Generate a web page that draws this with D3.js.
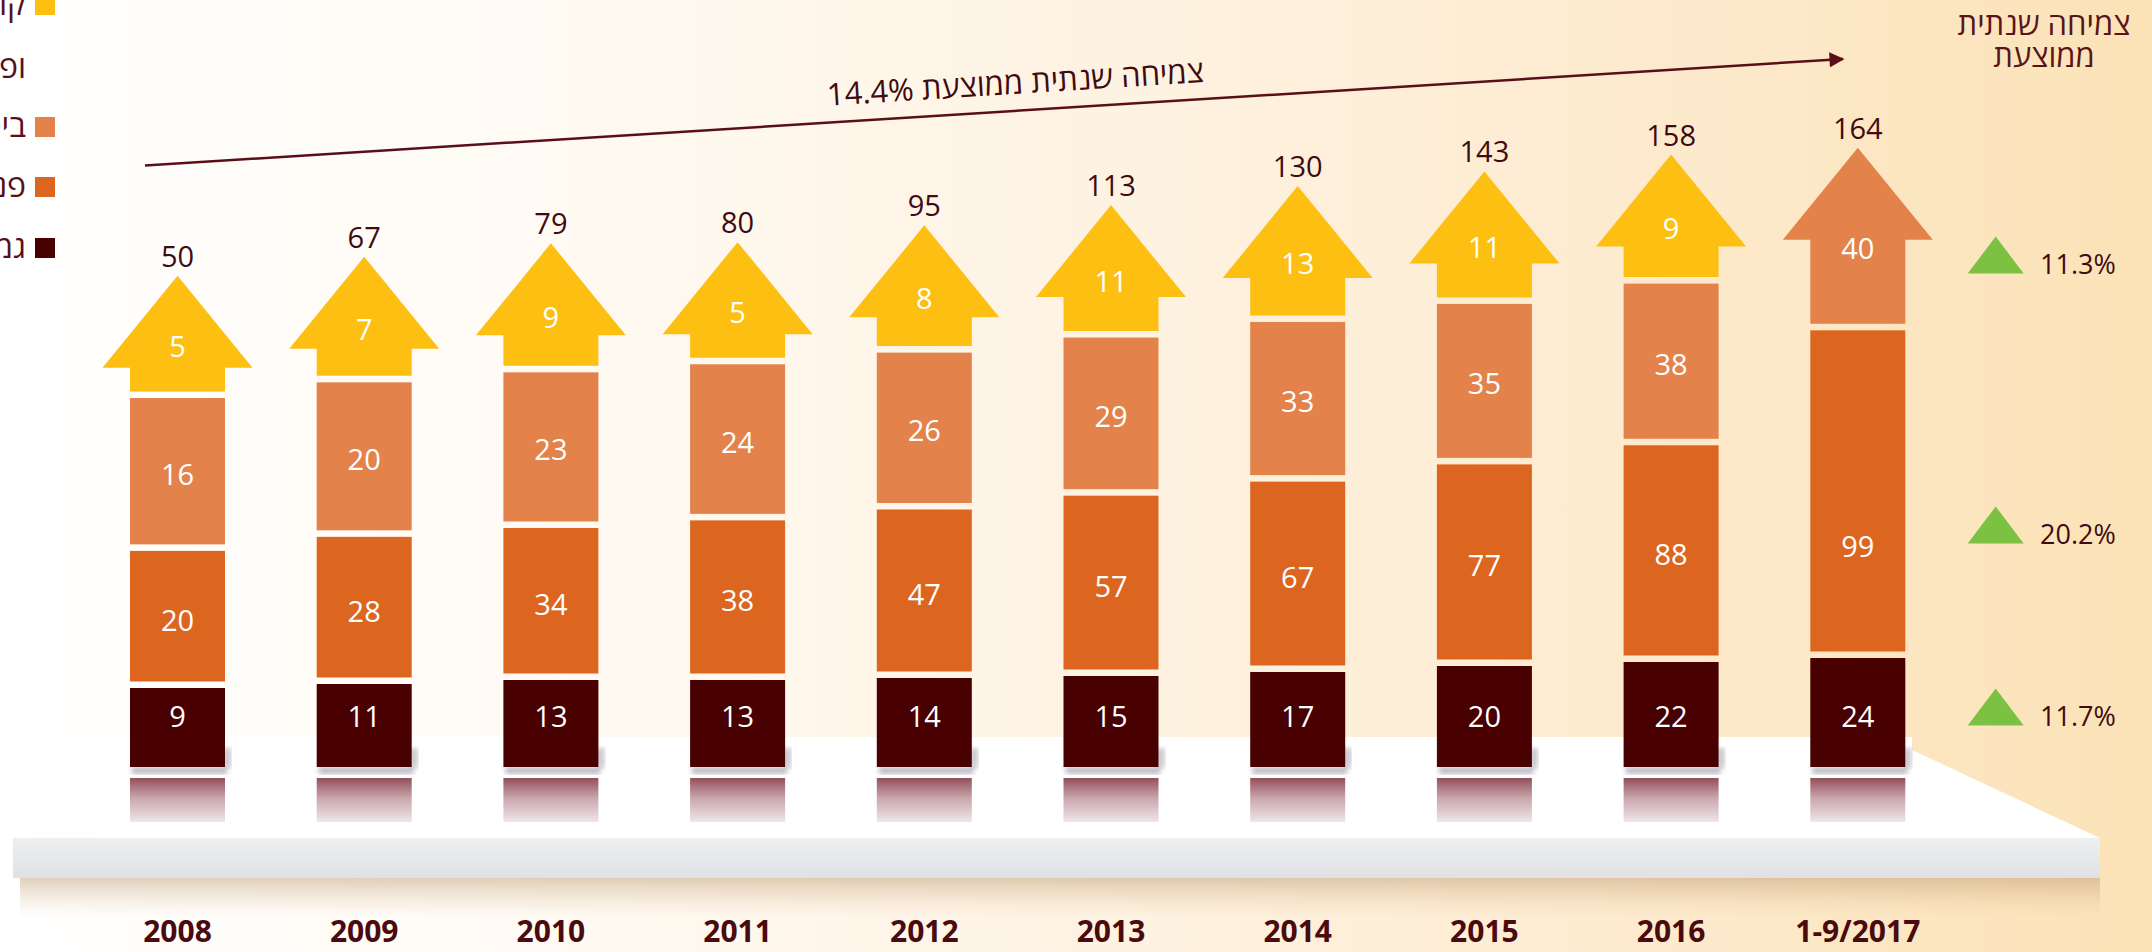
<!DOCTYPE html>
<html><head><meta charset="utf-8">
<script src="https://cdn.jsdelivr.net/npm/d3@7/dist/d3.min.js"></script>
<style>
html,body{margin:0;padding:0;overflow:hidden;background:#fff}
svg{display:block}
text{font-family:"Open Sans","Liberation Sans","DejaVu Sans",sans-serif}
</style></head>
<body>
<svg id="chart" width="2152" height="952"></svg>
<script>
// ---------- data ----------
const years = ["2008","2009","2010","2011","2012","2013","2014","2015","2016","1-9/2017"];
const gemel     = [9, 11, 13, 13, 14, 15, 17, 20, 22, 24];     // dark
const pension   = [20, 28, 34, 38, 47, 57, 67, 77, 88, 99];    // orange
const insurance = [16, 20, 23, 24, 26, 29, 33, 35, 38, 40];    // light orange
const keren     = [5, 7, 9, 5, 8, 11, 13, 11, 9, 0];           // yellow
const totals    = [50, 67, 79, 80, 95, 113, 130, 143, 158, 164];
const seriesKeys   = ["keren", "insurance", "pension", "gemel"];
const legendLines  = [["קרנות השתלמות", "ופוליסות חיסכון"], ["ביטוח מנהלים"], ["פנסיה"], ["גמל"]];
const growthKeys   = ["insurance", "pension", "gemel"];
const growthLabels = ["11.3%", "20.2%", "11.7%"];
const trendLabel   = "צמיחה שנתית ממוצעת 14.4%";
const titleLines   = ["צמיחה שנתית", "ממוצעת"];

// ---------- styles ----------
const colors = {keren:"#FDBF12", insurance:"#E3834B", pension:"#DC661F", gemel:"#480000"};
const textDark = "#3F0B10";
const W = 2152, H = 952;
const BASE = 767, GAP = 6.5, BAR_W = 95, HEAD_W = 150, HEAD_H = 92;

const svg = d3.select("#chart");
const defs = svg.append("defs");

// background gradient
const bg = defs.append("linearGradient").attr("id","bg").attr("x1",0).attr("x2",1).attr("y1",0).attr("y2",0);
[[0,"#FFFFFF"],[0.22,"#FFFBF5"],[0.5,"#FEF3E3"],[0.78,"#FDEACD"],[1,"#FBE2B6"]].forEach(s=>bg.append("stop").attr("offset",s[0]).attr("stop-color",s[1]));
svg.append("rect").attr("width",W).attr("height",H).attr("fill","url(#bg)");

const front = defs.append("linearGradient").attr("id","front").attr("x1",0).attr("x2",0).attr("y1",0).attr("y2",1);
[[0,"#EEEFF1"],[1,"#E0E1E4"]].forEach(s=>front.append("stop").attr("offset",s[0]).attr("stop-color",s[1]));
const under = defs.append("linearGradient").attr("id","under").attr("x1",0).attr("x2",0).attr("y1",0).attr("y2",1);
[[0,"rgba(185,150,110,0.45)"],[1,"rgba(230,200,160,0)"]].forEach(s=>under.append("stop").attr("offset",s[0]).attr("stop-color",s[1]));
const topSurf = defs.append("linearGradient").attr("id","topSurf").attr("x1",0).attr("x2",1).attr("y1",0).attr("y2",0);
[[0,"rgba(255,255,255,0.5)"],[0.08,"#FFFFFF"],[1,"#FFFFFF"]].forEach(s=>topSurf.append("stop").attr("offset",s[0]).attr("stop-color",s[1]));
const refl = defs.append("linearGradient").attr("id","refl").attr("x1",0).attr("x2",0).attr("y1",0).attr("y2",1);
[[0,"#93505A"],[0.45,"#C9A5AC"],[1,"#EFE6EA"]].forEach(s=>refl.append("stop").attr("offset",s[0]).attr("stop-color",s[1]));
defs.append("filter").attr("id","blur").append("feGaussianBlur").attr("stdDeviation",2.5);

// ---------- scales ----------
const x = d3.scalePoint().domain(years).range([177.5, 1857.8]);
const yTotal = d3.scaleLinear().domain([0, 200]).range([BASE - 435, BASE - 435 - 224.6]);
const hDark  = d3.scaleLinear().domain([0, 30]).range([61, 121]);
const hArrow = d3.scaleLinear().domain([0, 40]).range([107, 176]);
const hLight = d3.scaleLinear().domain([0, 40]).range([140, 156]);
const growthY = d3.scaleOrdinal().domain(growthKeys).range([255, 525, 707]);

// ---------- platform ----------
const plat = svg.append("g");
plat.append("rect").attr("x",20).attr("y",878).attr("width",2080).attr("height",40).attr("fill","url(#under)");
plat.append("polygon").attr("points","70,737 1912,737 1912,750 2100,838 13,838").attr("fill","url(#topSurf)");
plat.append("rect").attr("x",13).attr("y",838).attr("width",2087).attr("height",40).attr("fill","url(#front)");

// ---------- layout per bar ----------
const rows = years.map((yr,i)=>{
  const cx = x(yr);
  const tip = yTotal(totals[i]);
  const segs = [];
  const dH = hDark(gemel[i]);
  segs.push({key:"gemel", v:gemel[i], y0:BASE-dH, y1:BASE});
  const darkTop = BASE - dH;
  const topKey = keren[i] > 0 ? "keren" : "insurance";
  const topVal = keren[i] > 0 ? keren[i] : insurance[i];
  const aBottom = tip + hArrow(topVal);
  let orangeTop;
  if (topKey === "keren") {
    const lTop = aBottom + GAP, lBottom = lTop + hLight(insurance[i]);
    segs.push({key:"insurance", v:insurance[i], y0:lTop, y1:lBottom});
    orangeTop = lBottom + GAP;
  } else {
    orangeTop = aBottom + GAP;
  }
  segs.push({key:"pension", v:pension[i], y0:orangeTop, y1:darkTop - GAP});
  return {yr, i, cx, tip, segs, arrow:{key:topKey, v:topVal, tip, bottom:aBottom}};
});

// ---------- reflections & shadows ----------
const refG = svg.append("g");
rows.forEach(r=>{
  refG.append("rect").attr("x",r.cx+BAR_W/2-2).attr("y",748).attr("width",8).attr("height",20)
    .attr("fill","#9A9AA6").attr("opacity",0.55).attr("filter","url(#blur)");
  refG.append("rect").attr("x",r.cx-BAR_W/2+2).attr("y",767).attr("width",BAR_W).attr("height",7)
    .attr("fill","#8C8C99").attr("opacity",0.6).attr("filter","url(#blur)");
  refG.append("rect").attr("x",r.cx-BAR_W/2).attr("y",778).attr("width",BAR_W).attr("height",44).attr("fill","url(#refl)");
});

// ---------- bars ----------
const barG = svg.append("g");
rows.forEach(r=>{
  r.segs.forEach(s=>{
    barG.append("rect").attr("x",r.cx-BAR_W/2).attr("y",s.y0).attr("width",BAR_W).attr("height",s.y1-s.y0).attr("fill",colors[s.key]);
  });
  const a = r.arrow, hw = BAR_W/2, hh = HEAD_W/2, hb = a.tip + HEAD_H;
  const pts = [[r.cx-hw,a.bottom],[r.cx-hw,hb],[r.cx-hh,hb],[r.cx,a.tip],[r.cx+hh,hb],[r.cx+hw,hb],[r.cx+hw,a.bottom]];
  barG.append("polygon").attr("points",pts.map(p=>p.join(",")).join(" ")).attr("fill",colors[a.key]);
});

// ---------- value labels ----------
const lab = svg.append("g").attr("font-size",29).attr("text-anchor","middle");
rows.forEach(r=>{
  r.segs.forEach(s=>{
    let ly;
    if (s.key==="gemel") ly = BASE - 50;
    else if (s.key==="pension") ly = Math.max((s.y0+s.y1)/2 + 4, s.y1 - 105);
    else ly = (s.y0+s.y1)/2 + 3;
    lab.append("text").attr("x",r.cx).attr("y",ly).attr("dy","0.36em").attr("fill","#FFFFFF").text(s.v);
  });
  const a = r.arrow;
  lab.append("text").attr("x",r.cx).attr("y",(a.tip+a.bottom)/2 + 13).attr("dy","0.36em").attr("fill","#FFFFFF").text(a.v);
  lab.append("text").attr("x",r.cx).attr("y",r.tip - 9).attr("fill",textDark).text(totals[r.i]);
});

// ---------- year labels ----------
svg.append("g").selectAll("text").data(years).join("text")
  .attr("x",d=>x(d)).attr("y",942).attr("text-anchor","middle")
  .attr("font-size",30).attr("font-weight",700).attr("fill","#4A0A0E").text(d=>d);

// ---------- trend arrow ----------
const mk = defs.append("marker").attr("id","ah").attr("viewBox","0 0 10 10").attr("refX",9).attr("refY",5)
  .attr("markerWidth",7).attr("markerHeight",6).attr("orient","auto").attr("markerUnits","strokeWidth");
mk.append("path").attr("d","M0,0 L10,5 L0,10 z").attr("fill","#5A0E18");
const L0 = [145,165.5], L1 = [1843,59];
svg.append("line").attr("x1",L0[0]).attr("y1",L0[1]).attr("x2",L1[0]).attr("y2",L1[1])
  .attr("stroke","#5A0E18").attr("stroke-width",2.5).attr("marker-end","url(#ah)");
const ang = Math.atan2(L1[1]-L0[1], L1[0]-L0[0]) * 180/Math.PI;
const tcx = 1016, tcy = L0[1] + (L1[1]-L0[1])*(tcx-L0[0])/(L1[0]-L0[0]) - 17;
svg.append("text").attr("x",tcx).attr("y",tcy).attr("text-anchor","middle").attr("direction","rtl")
  .attr("transform",`rotate(${ang},${tcx},${tcy})`).attr("font-size",31).attr("fill",textDark).text(trendLabel);

// ---------- title top right (one text block, two lines) ----------
const title = svg.append("text").attr("text-anchor","middle").attr("direction","rtl")
  .attr("font-size",31).attr("fill","#5A1418");
title.selectAll("tspan").data(titleLines).join("tspan")
  .attr("x",2044).attr("y",(d,i)=>35+i*32).text(d=>d);

// ---------- growth markers ----------
const gG = svg.append("g");
growthKeys.forEach((k,i)=>{
  const cy = growthY(k), gx = 1995.7;
  gG.append("polygon").attr("points",`${gx},${cy-18.5} ${gx+28},${cy+18.5} ${gx-28},${cy+18.5}`).attr("fill","#7CC142");
  gG.append("text").attr("x",2040).attr("y",cy+18.5).attr("font-size",27).attr("fill",textDark).text(growthLabels[i]);
});

// ---------- legend (clipped at left edge, as in the original) ----------
const legG = svg.append("g");
const legBaselines = [[15,78],[137],[197],[258]];
const legKeys = ["keren","insurance","pension","gemel"];
legKeys.forEach((k,i)=>{
  const bl = legBaselines[i];
  legG.append("rect").attr("x",35).attr("y",bl[0]-20).attr("width",20).attr("height",20).attr("fill",colors[k]);
  legendLines[i].forEach((t,j)=>{
    legG.append("text").attr("x",26).attr("y",bl[j]).attr("direction","rtl").attr("text-anchor","start")
      .attr("font-size",32).attr("fill","#5A0F1C").text(t);
  });
});
</script>
</body></html>
